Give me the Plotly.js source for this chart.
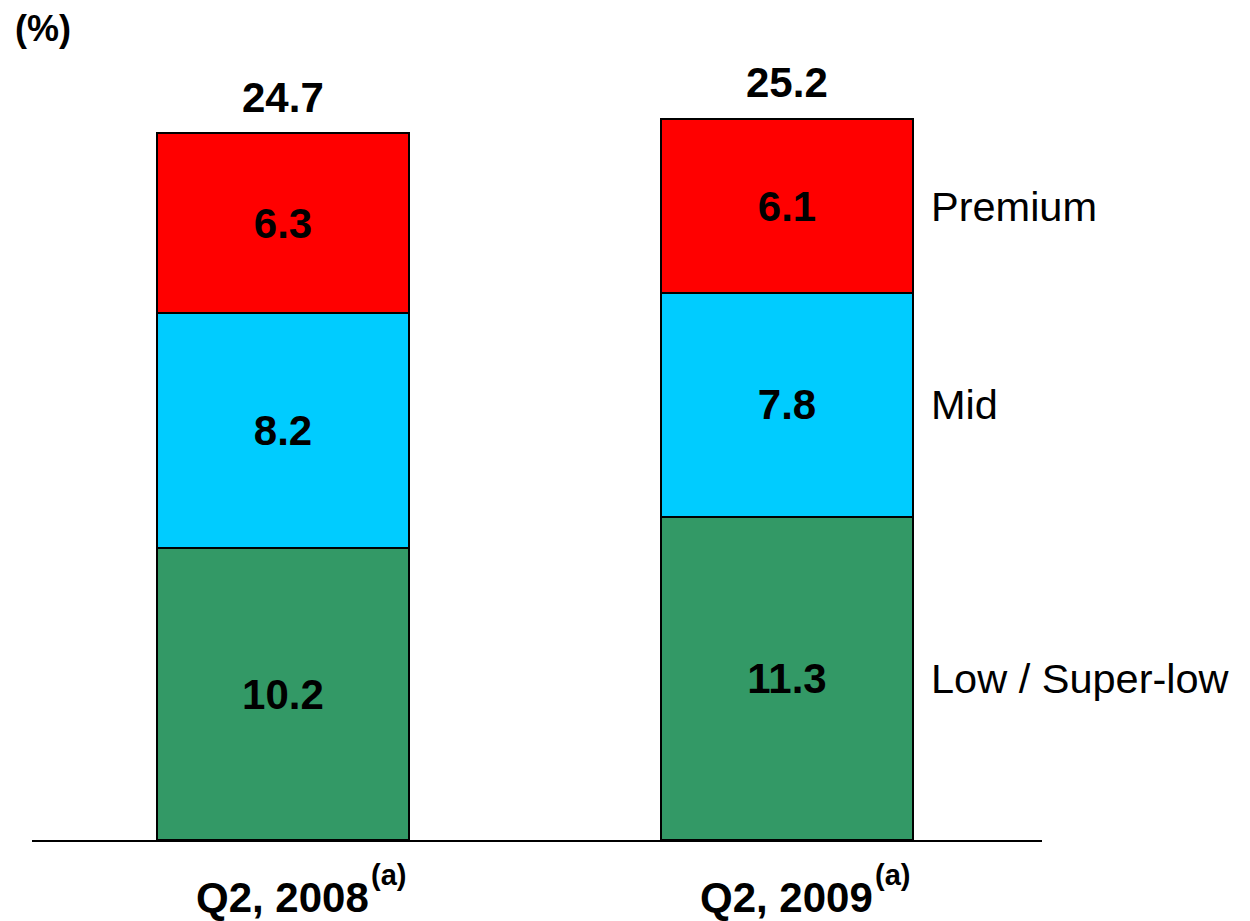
<!DOCTYPE html>
<html><head><meta charset="utf-8">
<script src="https://cdn.plot.ly/plotly-3.0.1.min.js"></script>
<style>html,body{margin:0;padding:0;background:#fff}</style>
</head><body>
<div id="chart" style="width:1250px;height:921px"></div>
<script>
const categories = ["Q2, 2008", "Q2, 2009"];
const seriesNames = ["Low / Super-low", "Mid", "Premium"];
const lowValues = [10.2, 11.3];
const midValues = [8.2, 7.8];
const premiumValues = [6.3, 6.1];
const totals = [24.7, 25.2];
const colors = ["#339966", "#00CCFF", "#FF0000"];
const FONT = "Liberation Sans, Arial, sans-serif";

const xs = [0, 1];
const seriesVals = [lowValues, midValues, premiumValues];
const traces = seriesVals.map((vals, i) => ({
  type: "bar",
  x: xs,
  y: vals,
  width: 0.5,
  name: seriesNames[i],
  marker: {color: colors[i], line: {color: "#000", width: 2}},
  text: vals.map(v => v.toFixed(1)),
  textposition: "inside",
  insidetextanchor: "middle",
  constraintext: "none",
  textfont: {family: FONT, size: 42, color: "#000", weight: 700},
  hoverinfo: "skip"
}));

const annotations = [];
// totals
totals.forEach((t, i) => annotations.push({
  x: xs[i], y: t, xref: "x", yref: "y", text: t.toFixed(1), showarrow: false,
  yanchor: "middle", yshift: 36,
  font: {family: FONT, size: 42, color: "#000", weight: 700}
}));
// series labels beside last bar
let cum = 0;
seriesVals.forEach((vals, i) => {
  const v = vals[vals.length - 1];
  annotations.push({
    x: xs[xs.length - 1] + 0.25, y: cum + v / 2, xref: "x", yref: "y",
    text: seriesNames[i], showarrow: false, xanchor: "left", xshift: 16,
    yanchor: "middle",
    font: {family: FONT, size: 41.5, color: "#000"}
  });
  cum += v;
});
// category labels
categories.forEach((c, i) => {
  annotations.push({
    x: xs[i], y: 0, xref: "x", yref: "paper", text: c, showarrow: false,
    xanchor: "center", yanchor: "middle", yshift: -57,
    font: {family: FONT, size: 42, color: "#000", weight: 700}
  });
  annotations.push({
    x: xs[i], y: 0, xref: "x", yref: "paper", text: "(a)", showarrow: false,
    xanchor: "left", yanchor: "middle", xshift: 86, yshift: -35,
    font: {family: FONT, size: 29, color: "#000", weight: 700}
  });
});
annotations.push({
  x: 0, y: 1, xref: "paper", yref: "paper", text: "(%)", showarrow: false,
  xanchor: "left", yanchor: "middle", xshift: -19, yshift: 12,
  font: {family: FONT, size: 36, color: "#000", weight: 700}
});

const layout = {
  width: 1250, height: 921,
  margin: {l: 32, r: 208, t: 40, b: 81},
  barmode: "stack",
  showlegend: false,
  paper_bgcolor: "#fff", plot_bgcolor: "#fff",
  xaxis: {range: [-0.498, 1.506], showticklabels: false, ticks: "", showgrid: false,
          zeroline: false, showline: true, linecolor: "#000", linewidth: 2, fixedrange: true},
  yaxis: {range: [0, 27.95], visible: false, showgrid: false, zeroline: false, fixedrange: true},
  annotations: annotations,
  font: {family: FONT}
};
Plotly.newPlot("chart", traces, layout, {displayModeBar: false, staticPlot: true});
</script>
</body></html>
